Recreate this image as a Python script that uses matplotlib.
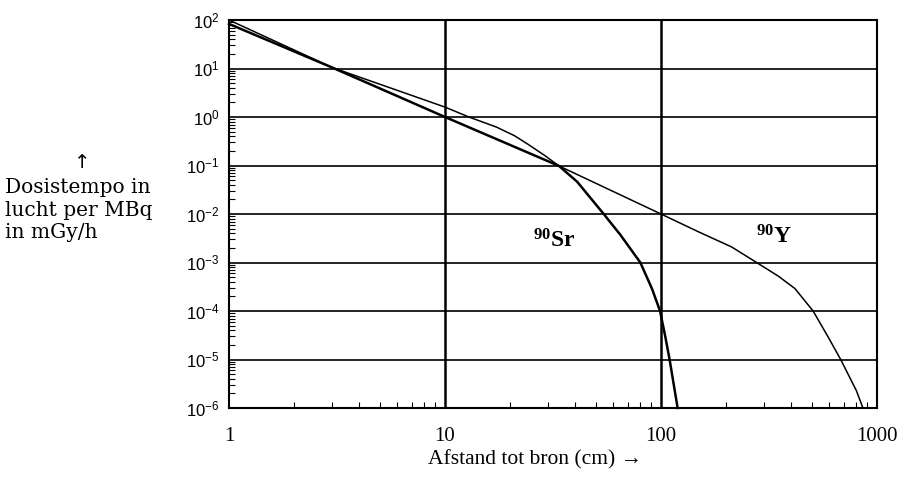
import matplotlib
matplotlib.use("Agg")
import matplotlib.pyplot as plt
from matplotlib.ticker import FixedLocator, FixedFormatter, LogLocator, NullFormatter

plt.rcParams['mathtext.fontset'] = 'custom'
plt.rcParams['mathtext.rm'] = 'Liberation Sans'
plt.rcParams['mathtext.it'] = 'Liberation Sans:italic'
plt.rcParams['mathtext.bf'] = 'Liberation Serif:bold'

# ---- data ----
x_ticks = [1, 10, 100, 1000]
x_tick_labels = ["1", "10", "100", "1000"]
y_ticks = [1e-6, 1e-5, 1e-4, 1e-3, 1e-2, 1e-1, 1e0, 1e1, 1e2]
y_tick_labels = [r"$10^{-6}$", r"$10^{-5}$", r"$10^{-4}$", r"$10^{-3}$", r"$10^{-2}$",
                 r"$10^{-1}$", r"$10^{0}$", r"$10^{1}$", r"$10^{2}$"]

sr_dist = [1, 3, 10, 33.7, 40.9, 54.3, 64.9, 80.2, 90.8, 99, 104.7, 109.6, 119.4]
sr_rate = [83, 10.5, 1.0, 0.098, 0.0463, 0.01, 3.7e-3, 1e-3, 2.9e-4, 1e-4, 2.95e-5, 1e-5, 1e-6]

y_dist = [1, 3, 10, 12.9, 17.3, 21, 24.5, 29, 33.7, 100, 149, 212, 277, 350, 417, 506,
          593, 679, 802, 861]
y_rate = [100, 10.5, 1.6, 1.0, 0.62, 0.41, 0.265, 0.16, 0.098, 0.01, 4.3e-3, 2.1e-3, 1e-3,
          5.2e-4, 2.9e-4, 1e-4, 2.95e-5, 1e-5, 2.3e-6, 1e-6]

vlines_at = [10, 100]

# series labels: (text, x, y) in data coordinates
sr_label = (r"$\mathbf{^{90}Sr}$", 32, 2.9e-3)
y_label = (r"$\mathbf{^{90}Y}$", 335, 3.4e-3)

serif = ['Liberation Serif', 'DejaVu Serif']

fig = plt.figure(figsize=(9, 4.84), dpi=100)
ax = fig.add_axes([229/900, 1-408/484, (877-229)/900, (408-20)/484])
ax.set_xscale('log')
ax.set_yscale('log')
ax.set_xlim(1, 1000)
ax.set_ylim(1e-6, 1e2)

for yv in y_ticks[1:-1]:
    ax.axhline(yv, color='black', lw=1.2, zorder=1)
for xv in vlines_at:
    ax.axvline(xv, color='black', lw=1.8, zorder=1)

ax.plot(y_dist, y_rate, color='black', lw=1.1, zorder=3, clip_on=False)
ax.plot(sr_dist, sr_rate, color='black', lw=1.8, zorder=3, clip_on=False)

for s in ax.spines.values():
    s.set_linewidth(1.5)
    s.set_color('black')

ax.xaxis.set_major_locator(FixedLocator(x_ticks))
ax.xaxis.set_major_formatter(FixedFormatter(x_tick_labels))
ax.yaxis.set_major_locator(FixedLocator(y_ticks))
ax.yaxis.set_major_formatter(FixedFormatter(y_tick_labels))
ax.xaxis.set_minor_locator(LogLocator(base=10, subs=range(2, 10)))
ax.yaxis.set_minor_locator(LogLocator(base=10, subs=range(2, 10)))
ax.xaxis.set_minor_formatter(NullFormatter())
ax.yaxis.set_minor_formatter(NullFormatter())

ax.tick_params(axis='both', which='major', direction='in', length=0)
ax.tick_params(axis='both', which='minor', direction='in', length=4, width=0.8,
               top=False, right=False)
ax.tick_params(axis='x', which='major', pad=14)
ax.tick_params(axis='y', which='major', pad=7, labelsize=12)
for lab in ax.get_xticklabels():
    lab.set_fontfamily(serif)
    lab.set_fontsize(15)

for txt, xv, yv in (sr_label, y_label):
    ax.text(xv, yv, txt, fontsize=17, ha='center', va='center')

fig.text(535/900, 1-460/484, "Afstand tot bron (cm) \u2192", family=serif,
         fontsize=15.5, ha='center', va='center')

fig.text(82/900, 1-162/484, "\u2191", family=['DejaVu Sans'], fontsize=14,
         ha='center', va='center')
fig.text(5/900, 1-210/484, "Dosistempo in\nlucht per MBq\nin mGy/h", family=['DejaVu Serif'],
         fontsize=14.5, ha='left', va='center', linespacing=1.25)

fig.savefig("out.png", dpi=100)
